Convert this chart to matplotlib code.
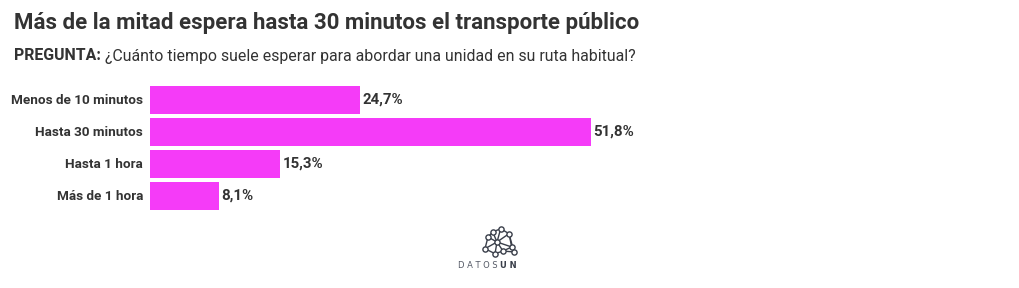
import matplotlib
matplotlib.use("Agg")
import matplotlib.pyplot as plt

categories = ["Menos de 10 minutos", "Hasta 30 minutos", "Hasta 1 hora", "Más de 1 hora"]
values = [24.7, 51.8, 15.3, 8.1]
value_labels = ["24,7%", "51,8%", "15,3%", "8,1%"]

W, H = 1020, 288
fig = plt.figure(figsize=(W / 100, H / 100), dpi=100)
fig.patch.set_facecolor("white")

plt.rcParams["font.family"] = ["Roboto", "DejaVu Sans"]
TXT = "#333333"

def px(x, y):
    return x / W, 1 - y / H

ax = fig.add_axes([150 / W, (H - 212) / H, (591 - 150) / W, 128 / H])
y = list(range(len(categories)))
ax.barh(y, values, height=0.875, color="#F53BF8", edgecolor="none")
ax.set_xlim(0, max(values))
ax.set_ylim(len(categories) - 0.5, -0.5)
ax.axis("off")
for i, (v, lab, cat) in enumerate(zip(values, value_labels, categories)):
    ax.annotate(lab, (v, i), xytext=(1.5, 0), textcoords="offset points",
                ha="left", va="center", fontsize=10.8, fontweight="bold", color=TXT)
    ax.annotate(cat, (0, i), xytext=(-5, 0), textcoords="offset points",
                ha="right", va="center", fontsize=9.7, fontweight="bold", color=TXT)

fig.text(*px(14, 23), "Más de la mitad espera hasta 30 minutos el transporte público",
         fontsize=16, fontweight="bold", color=TXT, va="center", ha="left")
t = fig.text(*px(14, 56), "PREGUNTA:", fontsize=11.4, fontweight="bold", color=TXT,
             va="center", ha="left")
fig.canvas.draw()
bb = t.get_window_extent()
fig.text((bb.x1 + 4) / W, 1 - 56 / H,
         "¿Cuánto tiempo suele esperar para abordar una unidad en su ruta habitual?",
         fontsize=11.4, color=TXT, va="center", ha="left")

# DATOSUN logo (decorative)
nodes = [(500.7, 228.7), (492.7, 232), (509, 233.7), (488, 237), (497, 242),
         (511.7, 247), (485, 248.7), (503, 251), (495, 253.7), (514, 252)]
edges = [(0, 1), (0, 2), (1, 3), (1, 4), (0, 4), (2, 4), (2, 5), (3, 6), (3, 4),
         (4, 7), (4, 8), (6, 8), (7, 8), (7, 5), (5, 9), (7, 9), (2, 9), (4, 5), (6, 4)]
lax = fig.add_axes([0, 0, 1, 1], facecolor="none")
lax.set_xlim(0, W)
lax.set_ylim(H, 0)
lax.axis("off")
for a, b in edges:
    lax.plot([nodes[a][0], nodes[b][0]], [nodes[a][1], nodes[b][1]],
             color="#3a3f4a", lw=1.0, solid_capstyle="round")
lax.scatter([n[0] for n in nodes], [n[1] for n in nodes], s=14,
            facecolor="white", edgecolor="#3a3f4a", linewidths=1.0, zorder=3)
lax.text(500, 266, "D A T O S ", fontsize=6, color="#555a66", ha="right", va="center",
         family="DejaVu Sans")
lax.text(500, 266, "U N", fontsize=6, color="#3a3f4a", ha="left", va="center",
         fontweight="bold", family="DejaVu Sans")

fig.savefig("out.png", dpi=100, facecolor="white")
